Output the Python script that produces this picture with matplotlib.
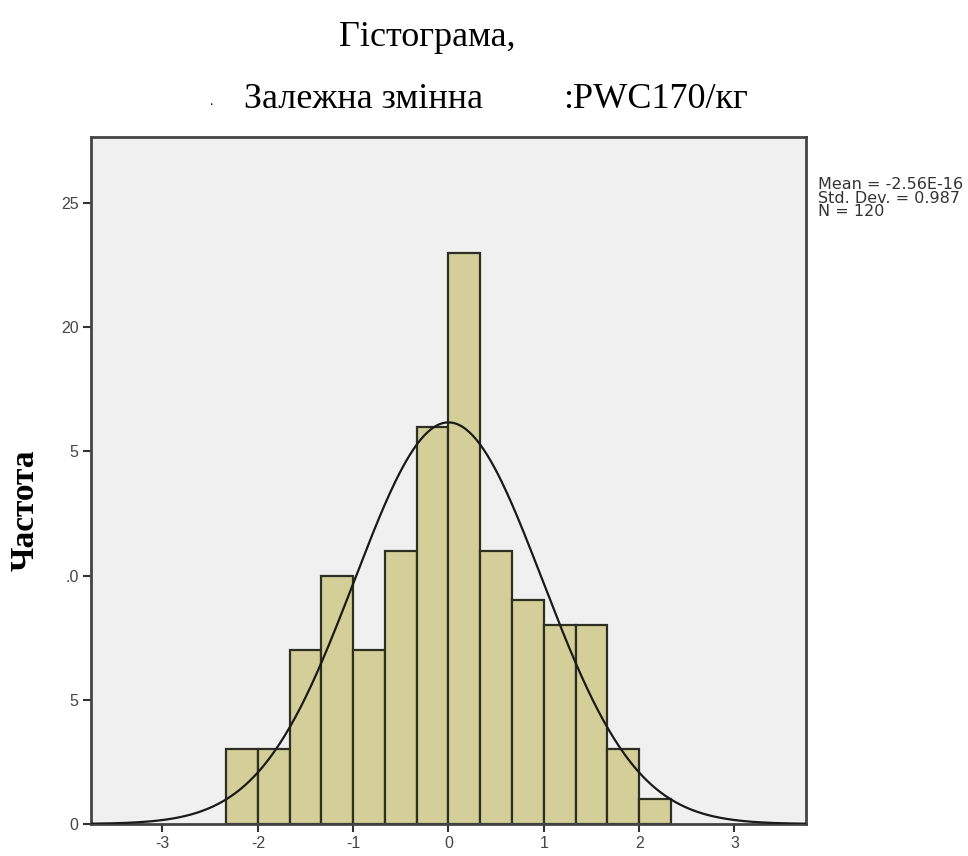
import numpy as np
import matplotlib.pyplot as plt

# histogram of standardized residuals, bins of width 1/3
bin_edges = np.arange(-7, 8) / 3.0
counts = [3, 3, 7, 10, 7, 11, 16, 23, 11, 9, 8, 8, 3, 1]
x_ticks = [-3, -2, -1, 0, 1, 2, 3]
y_ticks = [0, 5, 10, 15, 20, 25]
y_tick_labels = ['0', '5', '.0', '5', '20', '25']

mean = -2.56e-16
std_dev = 0.987
n_obs = 120

title_line1 = 'Гістограма,'
title_left = 'Залежна змінна'
title_right = ':PWC170/кг'
y_label = 'Частота'
stats_text = f'Mean = -2.56E-16\nStd. Dev. = {std_dev:.3f}\nN = {n_obs}'

serif = ['Liberation Serif', 'DejaVu Serif']
sans = ['Liberation Sans', 'DejaVu Sans']

fig = plt.figure(figsize=(9.68, 8.56), dpi=100)
ax = fig.add_axes([0.094, 0.0374, 0.7386, 0.8026])
ax.set_facecolor('#f0f0f0')

widths = np.diff(bin_edges)
ax.bar(bin_edges[:-1], counts, width=widths, align='edge',
       color='#d4cf98', edgecolor='#2e2e22', linewidth=1.6, zorder=2)

# fitted normal curve scaled to counts
bw = widths[0]
xs = np.linspace(-3.75, 3.75, 400)
ys = n_obs * bw * np.exp(-0.5 * ((xs - mean) / std_dev) ** 2) / (std_dev * np.sqrt(2 * np.pi))
ax.plot(xs, ys, color='#1a1a1a', lw=1.6, zorder=3)

ax.set_xlim(-3.75, 3.75)
ax.set_ylim(0, 27.66)
ax.set_xticks(x_ticks)
ax.set_yticks(y_ticks)
ax.set_xticklabels([str(v) for v in x_ticks], family=sans, fontsize=11.5, color='#444444')
ax.set_yticklabels(y_tick_labels, family=sans, fontsize=11.5, color='#444444')
ax.tick_params(direction='out', length=6, width=1.5, color='#333333', pad=3)
for side in ['left', 'right', 'top', 'bottom']:
    ax.spines[side].set_color('#444444')
    ax.spines[side].set_linewidth(2)

fig.text(0.026, 0.404, y_label, rotation=90, family=serif, fontsize=24,
         fontweight='bold', ha='center', va='center')

fig.text(0.441, 0.956, title_line1, family=serif, fontsize=26, ha='center', va='center')
fig.text(0.376, 0.884, title_left, family=serif, fontsize=26, ha='center', va='center')
fig.text(0.677, 0.884, title_right, family=serif, fontsize=26, ha='center', va='center')
fig.text(0.218, 0.882, '.', family=serif, fontsize=10, ha='center', va='center')

fig.text(0.845, 0.793, stats_text, family=['DejaVu Sans'], fontsize=11.5, ha='left', va='top',
         color='#333333', linespacing=0.88)

fig.savefig('out.png', dpi=100, facecolor='white')
